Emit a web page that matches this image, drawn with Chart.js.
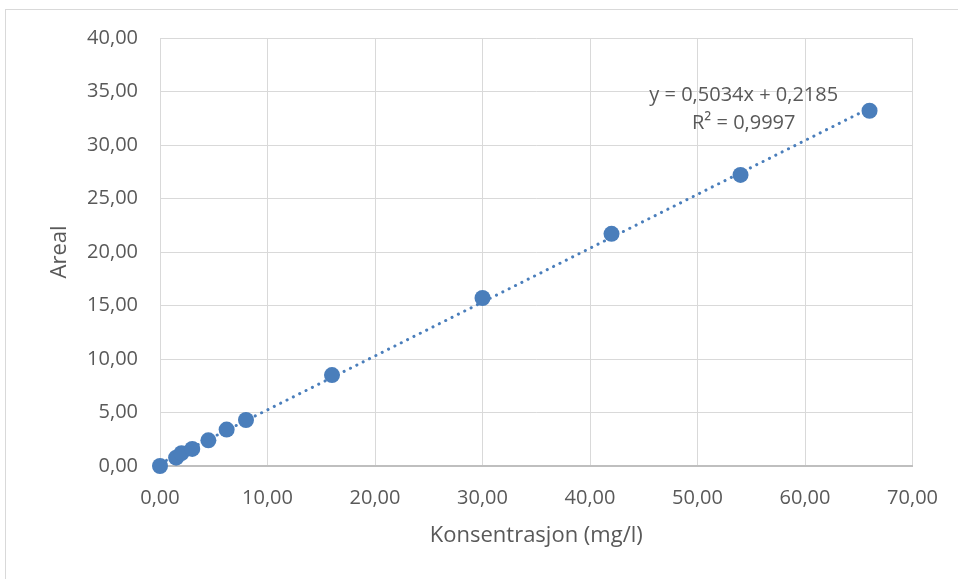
<!DOCTYPE html>
<html>
<head>
<meta charset="utf-8">
<script src="https://cdn.jsdelivr.net/npm/chart.js@4.4.0/dist/chart.umd.min.js"></script>
<style>
  html, body { margin: 0; padding: 0; background: #fff; }
  #wrap { position: relative; width: 958px; height: 579px; overflow: hidden; }
  #frame { position: absolute; left: 5px; top: 9px; width: 970px; height: 600px; border: 1px solid #d9d9d9; box-sizing: border-box; }
  canvas { position: absolute; left: 0; top: 0; }
</style>
</head>
<body>
<div id="wrap">
  <div id="frame"></div>
  <canvas id="chart" width="958" height="579"></canvas>
</div>
<script>
// ---------- Data ----------
const konsentrasjon = [0, 1.5, 2, 3, 4.5, 6.2, 8, 16, 30, 42, 54, 66];
const areal = [0, 0.78, 1.2, 1.6, 2.4, 3.4, 4.3, 8.5, 15.7, 21.7, 27.2, 33.2];
const slope = 0.5034;
const intercept = 0.2185;
const rSquared = 0.9997;
const xTicks = [0, 10, 20, 30, 40, 50, 60, 70];
const yTicks = [0, 5, 10, 15, 20, 25, 30, 35, 40];

const BLUE = '#4A7EBB';
const TEXT = '#595959';
const FONT = "'Open Sans', 'Noto Sans', sans-serif";

const fmt = v => v.toFixed(2).replace('.', ',');
const fmt4 = v => v.toFixed(4).replace('.', ',');

// linear trendline over the data range
const xMin = Math.min(...konsentrasjon), xMax = Math.max(...konsentrasjon);
const trend = [
  { x: xMin, y: slope * xMin + intercept },
  { x: xMax, y: slope * xMax + intercept }
];

// ---------- Equation label ----------
const equationLabel = {
  id: 'equationLabel',
  afterDatasetsDraw(chart) {
    const { ctx, scales: { x, y } } = chart;
    const cx = x.getPixelForValue(54.3);
    const cy = y.getPixelForValue(34.6);
    ctx.save();
    ctx.fillStyle = TEXT;
    ctx.font = `20px ${FONT}`;
    ctx.textAlign = 'center';
    ctx.textBaseline = 'middle';
    ctx.fillText(`y = ${fmt4(slope)}x + ${fmt4(intercept)}`, cx, cy);
    ctx.fillText(`R² = ${fmt4(rSquared)}`, cx, cy + 28);
    ctx.restore();
  }
};

const ctx = document.getElementById('chart').getContext('2d');
new Chart(ctx, {
  type: 'scatter',
  data: {
    datasets: [
      {
        label: 'Areal',
        data: konsentrasjon.map((k, i) => ({ x: k, y: areal[i] })),
        backgroundColor: BLUE,
        borderColor: BLUE,
        pointRadius: 8,
        pointBorderWidth: 0,
        clip: false,
        order: 1
      },
      {
        label: 'Lineær (Areal)',
        type: 'line',
        data: trend,
        borderColor: BLUE,
        borderWidth: 3,
        borderDash: [0.1, 7],
        borderCapStyle: 'round',
        pointRadius: 0,
        fill: false,
        order: 2
      }
    ]
  },
  options: {
    responsive: false,
    animation: false,
    layout: { padding: { left: 0, right: 43, top: 38, bottom: 0 } },
    plugins: { legend: { display: false }, tooltip: { enabled: false } },
    scales: {
      x: {
        type: 'linear',
        min: 0, max: 70,
        afterBuildTicks: s => { s.ticks = xTicks.map(v => ({ value: v })); },
        afterFit: s => { s.height = 113; },
        ticks: { color: TEXT, font: { family: FONT, size: 20 }, padding: 20, maxRotation: 0, callback: v => fmt(v) },
        grid: { color: '#d9d9d9', lineWidth: 1, drawTicks: false },
        border: { color: '#bfbfbf', width: 2 },
        title: { display: true, text: 'Konsentrasjon (mg/l)', color: TEXT, font: { family: FONT, size: 22 }, padding: { top: 0, bottom: 30 } }
      },
      y: {
        type: 'linear',
        min: 0, max: 40,
        afterBuildTicks: s => { s.ticks = yTicks.map(v => ({ value: v })); },
        afterFit: s => { s.width = 160; },
        ticks: { color: TEXT, font: { family: FONT, size: 20 }, padding: 22, callback: v => fmt(v) },
        grid: { color: '#d9d9d9', lineWidth: 1, drawTicks: false },
        border: { color: '#d9d9d9', width: 1 },
        title: { display: true, text: 'Areal', color: TEXT, font: { family: FONT, size: 22 }, padding: { top: 47, bottom: 0 } }
      }
    }
  },
  plugins: [equationLabel]
});
</script>
</body>
</html>
